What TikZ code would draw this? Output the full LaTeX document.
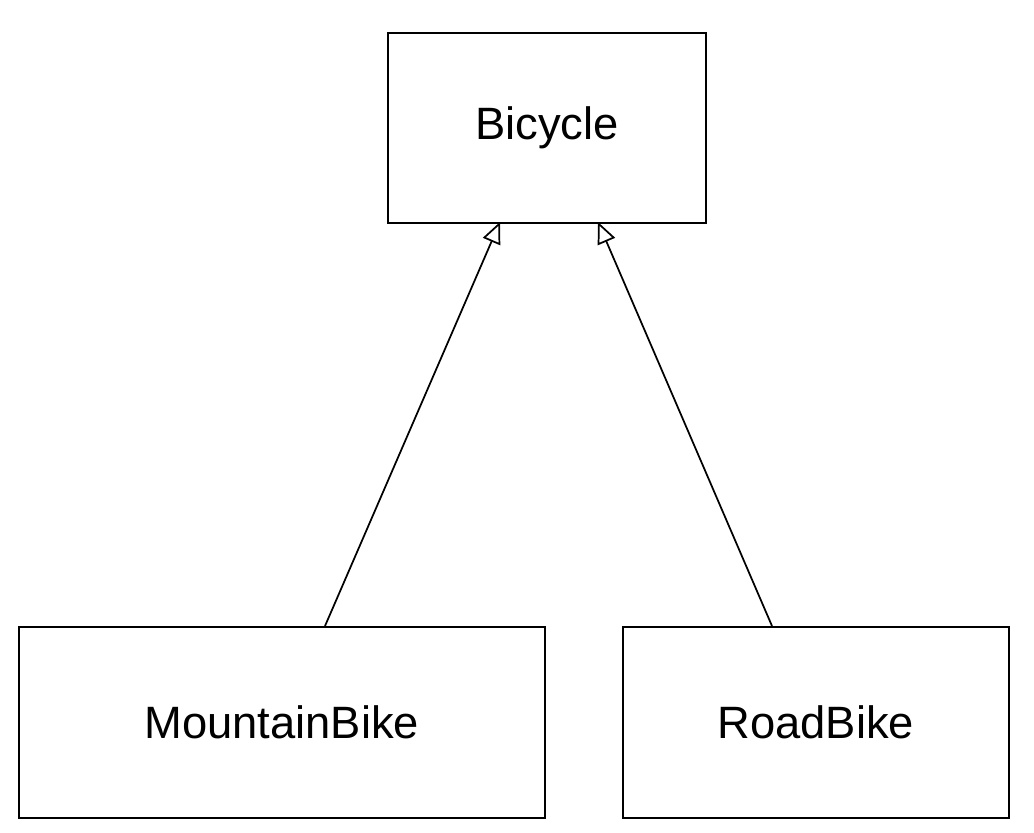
\documentclass[tikz,border=0pt]{standalone}
\usepackage{fontspec}
\setmainfont{Liberation Sans}
\usetikzlibrary{arrows.meta}
\begin{document}
\begin{tikzpicture}[x=0.75pt,y=-0.75pt,
  cls/.style={draw,line width=1.3pt,anchor=north west,inner sep=0pt,font=\fontsize{34}{40}\selectfont},
  gen/.style={line width=1.3pt,-{Triangle[open,length=16pt,width=14pt]}}]
\useasboundingbox (0,0) rectangle (1034,832);
\node[cls,minimum width=318*0.75pt,minimum height=190*0.75pt] (bic) at (387,32) {Bicycle};
\node[cls,minimum width=526*0.75pt,minimum height=191*0.75pt] (mb) at (18,626) {MountainBike};
\node[cls,minimum width=386*0.75pt,minimum height=191*0.75pt] (rb) at (622,626) {RoadBike};
\coordinate (m1) at (325,626);
\coordinate (m2) at (500,222);
\coordinate (r1) at (772,626);
\coordinate (r2) at (598,222);
\draw[gen] (m1) -- (m2);
\draw[gen] (r1) -- (r2);
\end{tikzpicture}
\end{document}
